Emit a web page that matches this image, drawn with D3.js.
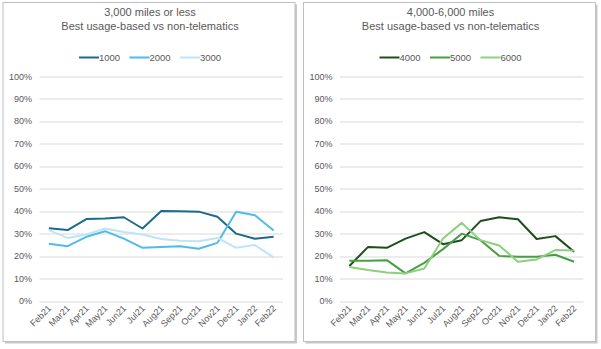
<!DOCTYPE html>
<html>
<head>
<meta charset="utf-8">
<script src="https://cdn.jsdelivr.net/npm/d3@7/dist/d3.min.js"></script>
<style>
  body { margin: 0; background: #fff; }
  svg { display: block; font-family: "Liberation Sans", Arial, sans-serif; }
</style>
</head>
<body>
<svg id="chart" width="601" height="349"></svg>
<script>
"use strict";

var months = ["Feb21", "Mar21", "Apr21", "May21", "Jun21", "Jul21", "Aug21",
              "Sep21", "Oct21", "Nov21", "Dec21", "Jan22", "Feb22"];
var yTicks = [0, 0.1, 0.2, 0.3, 0.4, 0.5, 0.6, 0.7, 0.8, 0.9, 1];

// left panel series
var s1000 = [0.324, 0.316, 0.365, 0.368, 0.373, 0.323, 0.401, 0.400, 0.398, 0.375, 0.300, 0.277, 0.286];
var s2000 = [0.255, 0.244, 0.286, 0.311, 0.278, 0.237, 0.241, 0.244, 0.233, 0.259, 0.398, 0.382, 0.314];
var s3000 = [0.316, 0.281, 0.296, 0.323, 0.307, 0.296, 0.276, 0.268, 0.266, 0.281, 0.237, 0.249, 0.194];

// right panel series
var s4000 = [0.156, 0.241, 0.237, 0.278, 0.307, 0.253, 0.271, 0.356, 0.373, 0.364, 0.276, 0.289, 0.219];
var s5000 = [0.179, 0.179, 0.182, 0.123, 0.170, 0.231, 0.300, 0.271, 0.201, 0.197, 0.197, 0.206, 0.175];
var s6000 = [0.151, 0.138, 0.127, 0.123, 0.145, 0.278, 0.348, 0.271, 0.247, 0.175, 0.185, 0.227, 0.225];

var panels = [
  {
    x: 3, title: "3,000 miles or less",
    series: [
      { name: "1000", values: s1000, color: "#1c6b8b" },
      { name: "2000", values: s2000, color: "#4fbbe6" },
      { name: "3000", values: s3000, color: "#bde5f5" }
    ]
  },
  {
    x: 303.5, title: "4,000-6,000 miles",
    series: [
      { name: "4000", values: s4000, color: "#1f4e1c" },
      { name: "5000", values: s5000, color: "#45a043" },
      { name: "6000", values: s6000, color: "#8ecf7f" }
    ]
  }
];

var svg = d3.select("#chart");
var W = 292, H = 339;
var textColor = "#595959";

panels.forEach(function (p) {
  var g = svg.append("g").attr("transform", "translate(" + p.x + ",2.5)");

  // shadow + frame
  g.append("rect").attr("x", 2).attr("y", 2).attr("width", W).attr("height", H)
   .attr("fill", "#c8c8c8");
  g.append("rect").attr("x", 0).attr("y", 0).attr("width", W).attr("height", H)
   .attr("fill", "#fff").attr("stroke", "#bfbfbf").attr("stroke-width", 1);

  // titles
  g.append("text").attr("x", W / 2 + 1).attr("y", 13)
   .attr("text-anchor", "middle").attr("font-size", 11).attr("fill", textColor)
   .text(p.title);
  g.append("text").attr("x", W / 2 + 1).attr("y", 27)
   .attr("text-anchor", "middle").attr("font-size", 11).attr("fill", textColor)
   .text("Best usage-based vs non-telematics");

  var x = d3.scaleBand().domain(months).range([36.5, 280]);
  var y = d3.scaleLinear().domain([0, 1]).range([298.5, 74]);

  // gridlines
  g.selectAll(".grid").data(yTicks).enter().append("line")
   .attr("x1", 36.5).attr("x2", 280)
   .attr("y1", function (d) { return Math.round(y(d)) + 0.5; })
   .attr("y2", function (d) { return Math.round(y(d)) + 0.5; })
   .attr("stroke", "#d9d9d9").attr("stroke-width", 1);

  // y labels
  g.selectAll(".ylab").data(yTicks).enter().append("text")
   .attr("x", 29).attr("y", function (d) { return y(d) + 3; })
   .attr("text-anchor", "end").attr("font-size", 9).attr("fill", textColor)
   .text(function (d) { return d3.format(".0%")(d); });

  // x labels
  g.selectAll(".xlab").data(months).enter().append("text")
   .attr("transform", function (d) {
     return "translate(" + (x(d) + x.bandwidth() / 2 + 3) + "," + (y(0) + 8) + ") rotate(-45)";
   })
   .attr("text-anchor", "end").attr("font-size", 9).attr("fill", textColor)
   .text(function (d) { return d; });

  // lines
  var line = d3.line()
    .x(function (d, i) { return x(months[i]) + x.bandwidth() / 2; })
    .y(function (d) { return y(d); });

  p.series.forEach(function (s) {
    g.append("path").datum(s.values)
     .attr("d", line).attr("fill", "none")
     .attr("stroke", s.color).attr("stroke-width", 2)
     .attr("stroke-linejoin", "round");
  });

  // legend
  var lg = g.selectAll(".leg").data(p.series).enter().append("g")
    .attr("transform", function (d, i) { return "translate(" + (76 + i * 50.5) + ",55)"; });
  lg.append("line").attr("x1", 0).attr("x2", 20).attr("y1", 0).attr("y2", 0)
    .attr("stroke", function (d) { return d.color; }).attr("stroke-width", 2);
  lg.append("text").attr("x", 20).attr("y", 3.5)
    .attr("font-size", 9.5).attr("fill", textColor)
    .text(function (d) { return d.name; });
});
</script>
</body>
</html>
